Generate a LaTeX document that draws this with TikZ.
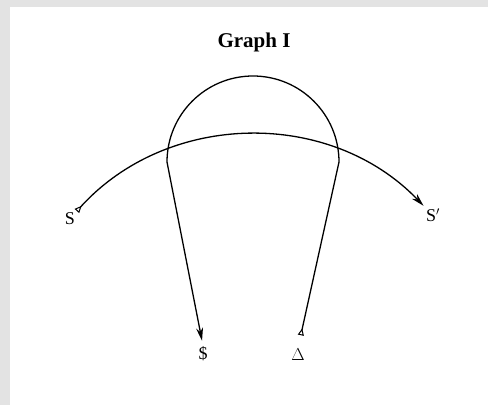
\documentclass[tikz,border=0pt]{standalone}
\usepackage{fontspec}
\setmainfont{Liberation Serif}
\usetikzlibrary{arrows.meta}

\begin{document}
\begin{tikzpicture}[x=1pt,y=1pt,
  lbl/.style={font=\fontsize{18}{20}\selectfont,inner sep=1pt},
  vec/.style={line width=1.3pt,
    {Triangle[open,reversed,length=7pt,width=6pt,line width=1pt]}-{Stealth[length=13pt,width=7pt]}}]
  % frame
  \useasboundingbox (0,0) rectangle (488,405);
  \fill[gray!22] (0,0) rectangle (488,405);
  \fill[white] (10,0) rectangle (488,398);
  \node[font=\fontsize{21}{24}\selectfont\bfseries] (title) at (254,363) {Graph I};
  % labels
  \node[lbl] (S) at (70,186) {S};
  \node[lbl] (Sp) at (433,190) {S$'$};
  \node[lbl] (dollar) at (203,51) {\$};
  \node[lbl] (delta) at (298,50) {$\Delta$};
  \coordinate (loopR) at (339,243);
  % vectors
  \draw[vec,shorten <=1pt,shorten >=2pt] (S.north east) to[bend left=47] (Sp.north west);
  \draw[vec,shorten <=13pt,shorten >=5pt] (delta.north) -- (loopR)
    arc[start angle=0,end angle=180,radius=86] -- (dollar.north);
\end{tikzpicture}
\end{document}
